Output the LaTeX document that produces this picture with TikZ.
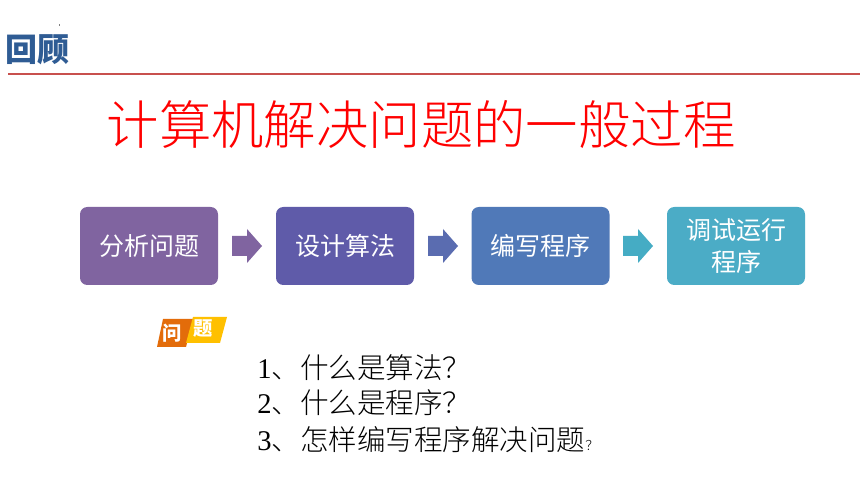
\documentclass[tikz,border=0pt]{standalone}
\usepackage{fontspec}
\setmainfont{Liberation Serif}
\newfontfamily\cjk{Noto Sans CJK SC}
\newfontfamily\cjkl{Noto Sans CJK SC Light}
\definecolor{cA}{HTML}{8064A0}
\definecolor{cB}{HTML}{5F5BA9}
\definecolor{cC}{HTML}{5079B8}
\definecolor{cD}{HTML}{4BACC6}
\definecolor{aB}{HTML}{5A6CB0}
\definecolor{aD}{HTML}{45ACC4}
\definecolor{headblue}{HTML}{2F5C94}
\definecolor{rulered}{HTML}{C8504D}
\definecolor{badgeo}{HTML}{E36C0A}
\definecolor{badgey}{HTML}{FFC000}
\newcommand{\flowarrow}[2]{\fill[#2] ([shift={(-15,-10)}]#1) -- ([shift={(0,-10)}]#1) -- ([shift={(0,-17)}]#1) -- ([shift={(15,0)}]#1) -- ([shift={(0,17)}]#1) -- ([shift={(0,10)}]#1) -- ([shift={(-15,10)}]#1) -- cycle;}
\tikzset{
  x=0.75pt,y=-0.75pt,
  stepbox/.style={draw=none,rounded corners=5.5pt,minimum width=103.5pt,minimum height=58.5pt,inner sep=0pt,
    text=white,align=center,font=\cjk\fontsize{18.75pt}{24pt}\selectfont},
  qline/.style={anchor=west,inner sep=0pt,font=\cjkl\fontsize{21.4pt}{26pt}\selectfont},
  badge/.style={text=white,inner sep=0pt,font=\cjk\bfseries\fontsize{14.5pt}{16pt}\selectfont},
}
\begin{document}
\begin{tikzpicture}
\useasboundingbox (0,0) rectangle (860,484);
\fill[white] (0,0) rectangle (860,484);
\fill[gray] (59,24.5) rectangle (59.6,26);
\node[anchor=center,inner sep=0pt,text=headblue,font=\cjk\bfseries\fontsize{24pt}{26pt}\selectfont] (head) at (38,50) {回顾};
\coordinate (ruleL) at (8,74);
\coordinate (ruleR) at (860,74);
\draw[rulered,line width=1.6pt] (ruleL) -- (ruleR);
\node[inner sep=0pt,text=red,font=\cjkl\fontsize{39.3pt}{42pt}\selectfont] (title) at (421,125) {计算机解决问题的一般过程};
\node[stepbox,fill=cA] (s1) at (149,246) {分析问题};
\node[stepbox,fill=cB] (s2) at (345,246) {设计算法};
\node[stepbox,fill=cC] (s3) at (540.5,246) {编写程序};
\node[stepbox,fill=cD] (s4) at (736,246) {调试运行\\程序};
\coordinate (a1) at (247,246);
\coordinate (a2) at (443,246);
\coordinate (a3) at (638,246);
\flowarrow{a1}{cA}
\flowarrow{a2}{aB}
\flowarrow{a3}{aD}
\fill[badgeo] (163,319) -- (193,319) -- (186,347) -- (157,347) -- cycle;
\fill[badgey] (193,317) -- (227,317) -- (220,343) -- (186,343) -- cycle;
\node[badge] (b1) at (172,333) {问};
\node[badge] (b2) at (203,329) {题};
\node[qline] (q1) at (257,368) {{\rmfamily 1}、什么是算法？};
\node[qline] (q2) at (257,403) {{\rmfamily 2}、什么是程序？};
\node[qline] (q3) at (257,440) {{\rmfamily 3}、怎样编写程序解决问题{\fontsize{10pt}{12pt}\selectfont ？}};
\end{tikzpicture}
\end{document}
